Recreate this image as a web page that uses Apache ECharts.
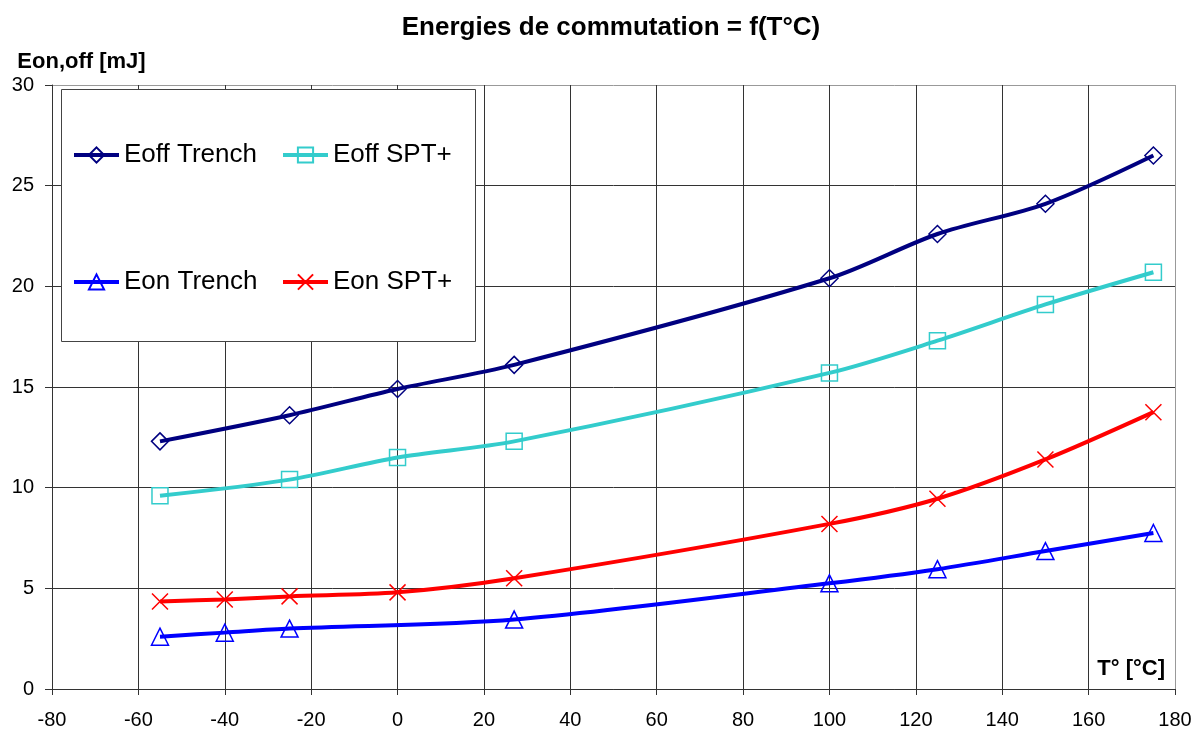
<!DOCTYPE html>
<html>
<head>
<meta charset="utf-8">
<script src="https://cdn.jsdelivr.net/npm/echarts@6/dist/echarts.min.js"></script>
<style>
html,body{margin:0;padding:0;background:#fff;}
#chart{width:1204px;height:734px;}
</style>
</head>
<body>
<div id="chart"></div>
<script>
// ---- data ----
const tempEoffTrench = [-55, -25, 0, 27, 100, 125, 150, 175];
const eoffTrench     = [12.3, 13.6, 14.9, 16.1, 20.4, 22.6, 24.1, 26.5];

const tempEoffSPT    = [-55, -25, 0, 27, 100, 125, 150, 175];
const eoffSPT        = [9.6, 10.4, 11.5, 12.3, 15.7, 17.3, 19.1, 20.7];

const tempEonTrench  = [-55, -40, -25, 27, 100, 125, 150, 175];
const eonTrench      = [2.6, 2.8, 3.0, 3.45, 5.25, 5.95, 6.85, 7.75];

const tempEonSPT     = [-55, -40, -25, 0, 27, 100, 125, 150, 175];
const eonSPT         = [4.35, 4.45, 4.6, 4.8, 5.5, 8.2, 9.45, 11.4, 13.75];

const seriesNames = ['Eoff Trench', 'Eoff SPT+', 'Eon Trench', 'Eon SPT+'];
const titleText = 'Energies de commutation = f(T°C)';
const yAxisName = 'Eon,off [mJ]';
const xAxisName = 'T° [°C]';

const pairs = (xs, ys) => xs.map((x, i) => [x, ys[i]]);

const FONT = 'Liberation Sans, Arial, sans-serif';
const crossPath = 'path://M0,0L20,20M20,0L0,20';

function mkSeries(name, data, color, symbol, size) {
  return {
    name: name,
    type: 'line',
    data: data,
    smooth: 0.3,
    symbol: symbol,
    symbolSize: size,
    showAllSymbol: true,
    z: 2,
    lineStyle: { color: color, width: 4 },
    itemStyle: { color: 'rgba(0,0,0,0)', borderColor: color, borderWidth: 1.5 },
    emphasis: { disabled: true }
  };
}

const xGridColors = [];
for (let i = 0; i < 13; i++) xGridColors.push('#333');
xGridColors.push('#999');
const yGridColors = ['#333', '#333', '#333', '#333', '#333', '#333', '#999'];

const legendCommon = {
  orient: 'vertical', top: 139, itemGap: 95, itemWidth: 45, itemHeight: 19,
  padding: 0, z: 5, selectedMode: false,
  lineStyle: { width: 4 },
  textStyle: { fontFamily: FONT, fontSize: 26, lineHeight: 32, color: '#000' }
};

const chart = echarts.init(document.getElementById('chart'), null, { renderer: 'canvas' });
chart.setOption({
  backgroundColor: '#fff',
  animation: false,
  textStyle: { fontFamily: FONT },
  title: {
    text: titleText,
    left: 606,
    textAlign: 'center',
    top: 10,
    textStyle: { fontFamily: FONT, fontSize: 26, fontWeight: 'bold', color: '#000' }
  },
  grid: { left: 52, right: 29, top: 85, bottom: 45, containLabel: false, outerBoundsMode: 'none' },
  graphic: [{
    type: 'rect',
    z: 3,
    shape: { x: 61.5, y: 89.5, width: 414, height: 252 },
    style: { fill: '#fff', stroke: '#444', lineWidth: 1 }
  }],
  legend: [
    Object.assign({}, legendCommon, { left: 72, data: [seriesNames[0], seriesNames[2]] }),
    Object.assign({}, legendCommon, { left: 281, data: [seriesNames[1], seriesNames[3]] })
  ],
  xAxis: {
    type: 'value',
    min: -80, max: 180, interval: 20,
    name: xAxisName,
    nameLocation: 'end',
    nameGap: -10,
    nameTextStyle: { fontFamily: FONT, fontSize: 22, fontWeight: 'bold', color: '#000', align: 'right', verticalAlign: 'bottom', padding: [0, 0, 9, 0] },
    axisLine: { onZero: false, lineStyle: { color: '#333', width: 1 } },
    axisTick: { show: true, length: 6, inside: false, lineStyle: { color: '#333' } },
    axisLabel: { fontFamily: FONT, fontSize: 20, color: '#000', margin: 21 },
    splitLine: { show: true, lineStyle: { color: xGridColors, width: 1 } }
  },
  yAxis: {
    type: 'value',
    min: 0, max: 30, interval: 5,
    name: yAxisName,
    nameLocation: 'end',
    nameGap: 12,
    nameTextStyle: { fontFamily: FONT, fontSize: 22, fontWeight: 'bold', color: '#000', align: 'center', padding: [0, 0, 0, 59] },
    axisLine: { show: true, onZero: false, lineStyle: { color: '#333', width: 1 } },
    axisTick: { show: true, length: 7, inside: false, lineStyle: { color: '#333' } },
    axisLabel: { fontFamily: FONT, fontSize: 20, color: '#000', margin: 18 },
    splitLine: { show: true, lineStyle: { color: yGridColors, width: 1 } }
  },
  series: [
    mkSeries(seriesNames[0], pairs(tempEoffTrench, eoffTrench), '#000080', 'diamond', 17),
    mkSeries(seriesNames[1], pairs(tempEoffSPT, eoffSPT), '#33CCCC', 'rect', 16),
    mkSeries(seriesNames[2], pairs(tempEonTrench, eonTrench), '#0000FF', 'triangle', 17),
    mkSeries(seriesNames[3], pairs(tempEonSPT, eonSPT), '#FF0000', crossPath, 16)
  ]
});
</script>
</body>
</html>
